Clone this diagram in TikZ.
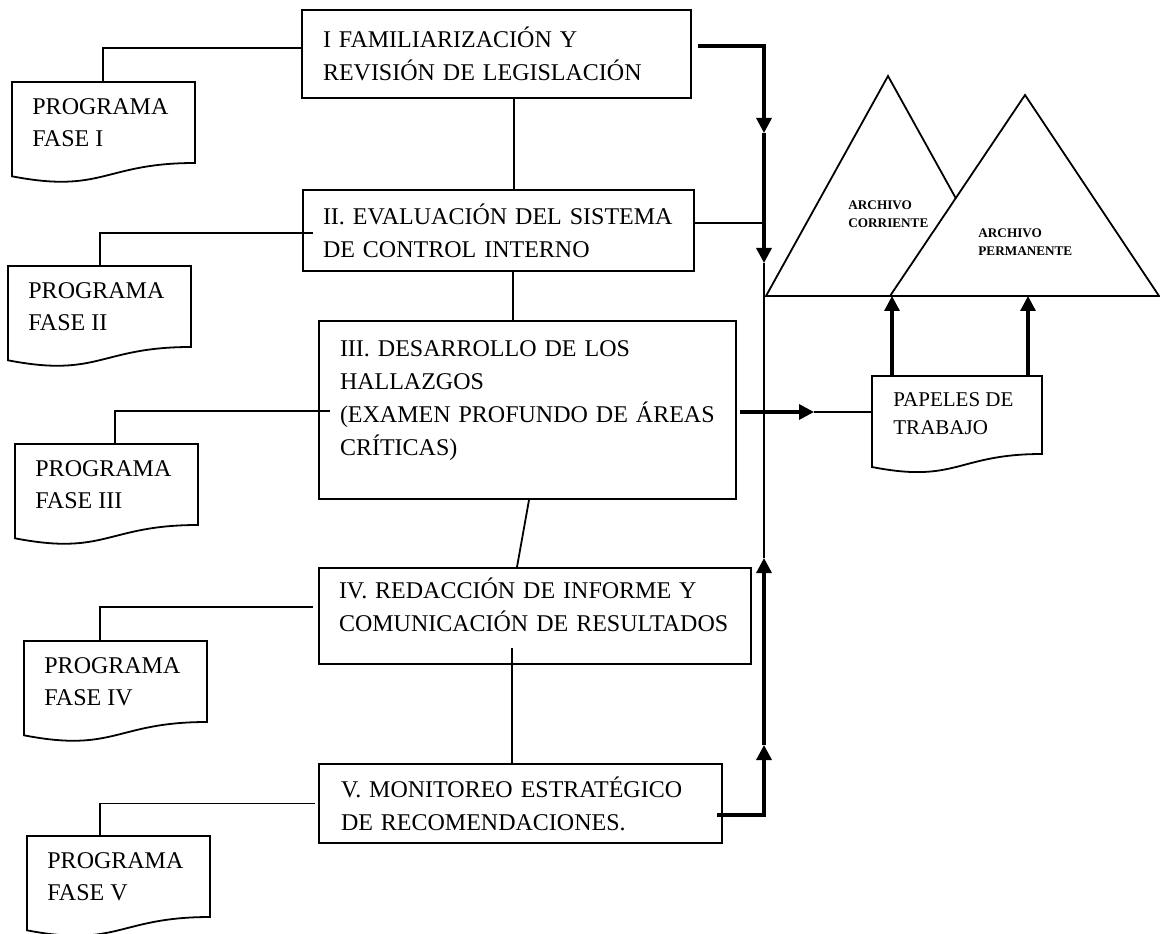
\documentclass[tikz,border=0pt]{standalone}
\usepackage{fontspec}
\setmainfont{Liberation Serif}
\usetikzlibrary{arrows.meta}

\tikzset{
  linea/.style={line width=0.9pt},
  gruesa/.style={line width=1.6pt},
  flecha/.style={-{Triangle[length=7.5pt,width=7.5pt]}},
  caja/.style={draw, line width=1pt, rectangle, anchor=north west, align=left,
    inner ysep=0pt, font=\fontsize{12}{16.5}\selectfont},
  texto/.style={anchor=north west, align=left, inner sep=0pt,
    font=\fontsize{12}{16}\selectfont},
  archivo/.style={anchor=north west, align=left, inner sep=0pt,
    font=\fontsize{6.6}{9}\selectfont\bfseries},
}

\begin{document}
\begin{tikzpicture}[x=50pt, y=50pt]
    \useasboundingbox (0,0) rectangle (11.6,9.33);

    % --- Fases ---
    \node[caja, inner xsep=10.5pt, text width=173.5pt, minimum height=44pt] (b1) at (3.01,9.24)
        {I FAMILIARIZACIÓN Y\\REVISIÓN DE LEGISLACIÓN};
    \node[caja, inner xsep=10pt, text width=175.5pt, minimum height=40.5pt] (b2) at (3.02,7.44)
        {II. EVALUACIÓN DEL SISTEMA\\DE CONTROL INTERNO};
    \node[caja, inner xsep=10.5pt, text width=187.5pt, minimum height=89pt, text depth=61pt] (b3) at (3.18,6.13)
        {III. DESARROLLO DE LOS\\HALLAZGOS\\(EXAMEN PROFUNDO DE ÁREAS\\CRÍTICAS)};
    \node[caja, inner xsep=10pt, text width=196pt, minimum height=48pt, text depth=27.5pt] (b4) at (3.18,3.66)
        {IV. REDACCIÓN DE INFORME Y\\COMUNICACIÓN DE RESULTADOS};
    \node[caja, inner xsep=11pt, text width=179.5pt, minimum height=39.5pt] (b5) at (3.18,1.70)
        {V. MONITOREO ESTRATÉGICO\\DE RECOMENDACIONES.};

    % Uniones entre las fases
    \draw[linea] ([xshift=8.75pt]b1.south) -- ([xshift=8.75pt]b1.south |- b2.north);
    \draw[linea] ([xshift=7.25pt]b2.south) -- ([xshift=7.25pt]b2.south |- b3.north);
    \draw[linea] ([xshift=0.75pt]b3.south) -- ([xshift=-9pt]b4.north);
    \draw[linea] ([xshift=-11.5pt,yshift=8.5pt]b4.south) -- ([xshift=-11.5pt]b4.south |- b5.north);

    % --- Programas de cada fase ---
    \foreach \n/\x/\y/\c/\t in {1/0.12/8.51/0.91/I, 2/0.08/6.67/0.92/II, 3/0.15/4.89/1.00/III,
                                4/0.24/2.92/0.76/IV, 5/0.27/0.97/0.73/V} {
        \draw[linea] (\x,\y) -- (\x+1.83,\y) -- (\x+1.83,\y-0.81)
            .. controls (\x+0.915,\y-0.81) and (\x+0.915,\y-1.12) .. (\x,\y-0.943) -- cycle;
        \node[texto] (p\n) at (\x+0.20,\y-0.16) {PROGRAMA\\FASE \t};
        \coordinate (c\n) at (\x+\c,\y);
    }
    \draw[linea] (c1) |- ([yshift=3pt]b1.west);
    \draw[linea] (c2) |- ([xshift=5.5pt,yshift=-1.25pt]b2.west);
    \draw[linea] (c3) |- ([xshift=6pt,yshift=-0.5pt]b3.west);
    \draw[linea] (c4) |- ([xshift=-2.5pt,yshift=4.5pt]b4.west);
    \draw[linea] (c5) |- ([xshift=-1.5pt]b5.west);

    % --- Archivos ---
    \coordinate (tb) at (7.66,6.37);
    \draw[linea] (tb) -- (8.88,8.57) -- (10.10,6.37) -- cycle;
    \filldraw[linea, fill=white] (8.90,6.37) -- (10.25,8.38) -- (11.59,6.37) -- cycle;
    \node[archivo] (ac) at (8.48,7.33) {ARCHIVO\\CORRIENTE};
    \node[archivo] (ap) at (9.78,7.05) {ARCHIVO\\PERMANENTE};

    % --- Papeles de trabajo ---
    \coordinate (ptl) at (8.72,5.57);
    \draw[linea] (ptl) -- (10.42,5.57) -- (10.42,4.79)
        .. controls (9.57,4.79) and (9.57,4.493) .. (8.72,4.66) -- cycle;
    \node[texto, font=\fontsize{10.5}{14}\selectfont] (pt) at (8.93,5.41) {PAPELES DE\\TRABAJO};
    \coordinate (pa1) at (8.92,5.57);
    \coordinate (pa2) at (10.28,5.57);
    \draw[gruesa, flecha] (pa1) -- (pa1 |- tb);
    \draw[gruesa, flecha] (pa2) -- (pa2 |- tb);

    % --- Linea colectora ---
    \coordinate (e1) at (7.64,8.00);
    \coordinate (e2) at (7.64,6.70);
    \coordinate (e3) at (7.64,3.75);
    \coordinate (e4) at (7.64,1.88);
    \draw[gruesa, flecha] ([xshift=3pt,yshift=4pt]b1.east) -| (e1);
    \draw[gruesa, flecha] (e1) -- (e2);
    \draw[linea] (e2) -- (e3);
    \draw[gruesa, flecha] ([xshift=-3pt,yshift=-5.75pt]b5.east) -| (e4);
    \draw[gruesa, flecha] (e4) -- (e3);
    \draw[linea] ([yshift=3.75pt]b2.east) -- ([yshift=3.75pt]b2.east -| e1);
    \draw[gruesa, flecha] ([xshift=1.5pt,yshift=-1pt]b3.east) -- ++(0.74,0) coordinate (m3);
    \draw[linea] (m3) -- (m3 -| ptl);
\end{tikzpicture}
\end{document}
